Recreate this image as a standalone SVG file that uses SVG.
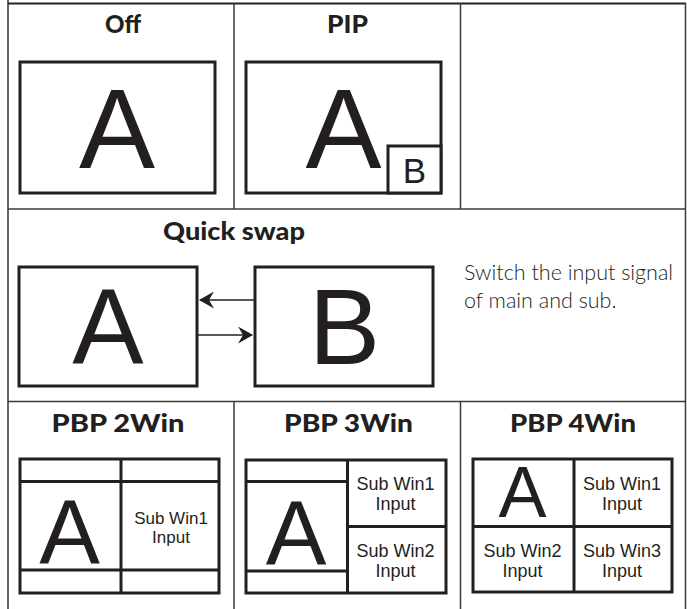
<svg xmlns="http://www.w3.org/2000/svg" width="687" height="609" viewBox="0 0 687 609">
<style>
.grid{stroke:#3a3a3a;stroke-width:1.5;fill:none}
.box{stroke:#231f20;stroke-width:3;fill:#fff}
.title{font-family:Lato,"Open Sans",sans-serif;font-weight:900;font-size:25px;fill:#231f20;text-anchor:middle}
.big{font-family:"Liberation Sans",Arial,sans-serif;fill:#231f20;text-anchor:middle}
.sub{font-family:"Liberation Sans",Arial,sans-serif;font-size:18px;fill:#231f20;text-anchor:middle}
.sub2{font-family:"Liberation Sans",Arial,sans-serif;font-size:17px;fill:#231f20;text-anchor:middle}
.desc{font-family:Lato,"Open Sans",sans-serif;font-weight:300;font-size:21.5px;fill:#231f20}
.conn{stroke:#231f20;stroke-width:1.5;fill:none}
</style>
<defs>
<marker id="ah" viewBox="0 0 15 17" refX="14" refY="8.5" markerWidth="15" markerHeight="17" markerUnits="userSpaceOnUse" orient="auto">
<path d="M0,0 L15,8.5 L0,17 L5,8.5 Z" fill="#231f20"/>
</marker>
</defs>
<rect width="687" height="609" fill="#fff"/>
<g id="table">
<line x1="8" y1="0" x2="8" y2="609" stroke="#666" stroke-width="2"/>
<line x1="8" y1="3.5" x2="686" y2="3.5" stroke="#222" stroke-width="2"/>
<line x1="685.5" y1="3" x2="685.5" y2="609" class="grid"/>
<line x1="8" y1="209" x2="686" y2="209" class="grid"/>
<line x1="8" y1="401.5" x2="686" y2="401.5" class="grid"/>
<line x1="234" y1="3" x2="234" y2="209" class="grid"/>
<line x1="460.5" y1="3" x2="460.5" y2="209" class="grid"/>
<line x1="234" y1="401.5" x2="234" y2="609" class="grid"/>
<line x1="460.5" y1="401.5" x2="460.5" y2="609" class="grid"/>
</g>
<g id="off">
<text x="123" y="33" class="title" textLength="36" lengthAdjust="spacingAndGlyphs">Off</text>
<rect x="20" y="62" width="195" height="131" class="box"/>
<text x="117" y="168" class="big" font-size="114">A</text>
</g>
<g id="pip">
<text x="347.5" y="33" class="title" textLength="41" lengthAdjust="spacingAndGlyphs">PIP</text>
<rect x="246" y="62" width="195" height="131" class="box"/>
<text x="343.5" y="168" class="big" font-size="114">A</text>
<rect x="388" y="146" width="53" height="47" class="box"/>
<text x="414.5" y="183" class="big" font-size="35">B</text>
</g>
<g id="quickswap">
<text x="234" y="240" class="title" textLength="142" lengthAdjust="spacingAndGlyphs">Quick swap</text>
<rect x="19" y="267" width="178" height="119" class="box"/>
<text x="108" y="364" class="big" font-size="107">A</text>
<rect x="255" y="267" width="178" height="119" class="box"/>
<text x="344.5" y="364" class="big" font-size="107">B</text>
<text x="464" y="280" class="desc">Switch the input signal</text>
<text x="464" y="308" class="desc">of main and sub.</text>
</g>
<g id="connectors">
<line x1="255" y1="300" x2="200" y2="300" class="conn" marker-end="url(#ah)"/>
<line x1="197" y1="335" x2="252" y2="335" class="conn" marker-end="url(#ah)"/>
</g>
<g id="pbp2">
<text x="118" y="432" class="title" textLength="133" lengthAdjust="spacingAndGlyphs">PBP 2Win</text>
<rect x="20" y="459" width="199" height="134" class="box"/>
<line x1="20" y1="481.5" x2="219" y2="481.5" class="box"/>
<line x1="20" y1="570" x2="219" y2="570" class="box"/>
<line x1="121" y1="459" x2="121" y2="593" class="box"/>
<text x="69.5" y="563" class="big" font-size="91">A</text>
<text x="171" y="524" class="sub2">Sub Win1</text>
<text x="171" y="543" class="sub2">Input</text>
</g>
<g id="pbp3">
<text x="348.5" y="432" class="title" textLength="129" lengthAdjust="spacingAndGlyphs">PBP 3Win</text>
<rect x="246" y="460" width="200" height="133" class="box"/>
<line x1="246" y1="481.5" x2="347.5" y2="481.5" class="box"/>
<line x1="246" y1="571" x2="347.5" y2="571" class="box"/>
<line x1="347.5" y1="460" x2="347.5" y2="593" class="box"/>
<line x1="347.5" y1="526.5" x2="446" y2="526.5" class="box"/>
<text x="296" y="564" class="big" font-size="91">A</text>
<text x="395.5" y="490" class="sub">Sub Win1</text>
<text x="395.5" y="510" class="sub">Input</text>
<text x="395.5" y="556.5" class="sub">Sub Win2</text>
<text x="395.5" y="576.5" class="sub">Input</text>
</g>
<g id="pbp4">
<text x="573" y="432" class="title" textLength="126" lengthAdjust="spacingAndGlyphs">PBP 4Win</text>
<rect x="473" y="459" width="199" height="133" class="box"/>
<line x1="574" y1="459" x2="574" y2="592" class="box"/>
<line x1="473" y1="526.5" x2="672" y2="526.5" class="box"/>
<text x="522.5" y="517" class="big" font-size="72">A</text>
<text x="622" y="490" class="sub">Sub Win1</text>
<text x="622" y="510" class="sub">Input</text>
<text x="522.5" y="556.5" class="sub">Sub Win2</text>
<text x="522.5" y="576.5" class="sub">Input</text>
<text x="622" y="556.5" class="sub">Sub Win3</text>
<text x="622" y="576.5" class="sub">Input</text>
</g>
</svg>
